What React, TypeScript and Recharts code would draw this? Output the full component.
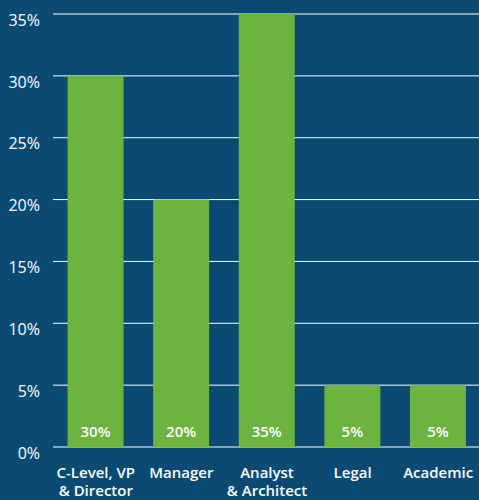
import { Bar, BarChart, CartesianGrid, LabelList, XAxis, YAxis } from 'recharts';

const roles = ['C-Level, VP\n& Director', 'Manager', 'Analyst\n& Architect', 'Legal', 'Academic'];
const shares = [30, 20, 35, 5, 5];
const yTicks = [0, 5, 10, 15, 20, 25, 30, 35];

const data = roles.map((role, i) => ({ role, share: shares[i] }));

const FONT = '"Open Sans", sans-serif';

const RoleTick = ({ x, y, payload }: any) => {
  const lines = String(payload.value).split('\n');
  return (
    <text x={x} y={y} textAnchor='middle' fill='#fff' fontFamily={FONT} fontSize={15} fontWeight={600}>
      {lines.map((line, i) => (
        <tspan key={i} x={x} dy={i === 0 ? 23 : 18}>
          {line}
        </tspan>
      ))}
    </text>
  );
};

export default function App() {
  return (
    <div style={{ position: 'fixed', left: 0, top: 0, width: 479, height: 500, background: '#0b4a72' }}>
      <BarChart
        width={479}
        height={500}
        data={data}
        margin={{ top: 14, right: -2, bottom: 0, left: 1 }}
        barCategoryGap='17%'
      >
        <CartesianGrid vertical={false} stroke='#ffffff' strokeWidth={1} />
        <XAxis
          dataKey='role'
          axisLine={false}
          tickLine={false}
          interval={0}
          height={53}
          tick={<RoleTick />}
        />
        <YAxis
          width={52}
          domain={[0, 35]}
          ticks={yTicks}
          axisLine={false}
          tickLine={false}
          tickSize={0}
          tickMargin={13}
          tickFormatter={(v) => `${v}%`}
          tick={{ fill: '#fff', fontFamily: FONT, fontSize: 16, dy: 6 }}
        />
        <Bar dataKey='share' fill='#6cb33f' isAnimationActive={false}>
          <LabelList
            dataKey='share'
            position='insideBottom'
            offset={10}
            formatter={(v: any) => `${v}%`}
            fill='#fff'
            fontFamily={FONT}
            fontSize={15}
            fontWeight={600}
          />
        </Bar>
      </BarChart>
    </div>
  );
}
